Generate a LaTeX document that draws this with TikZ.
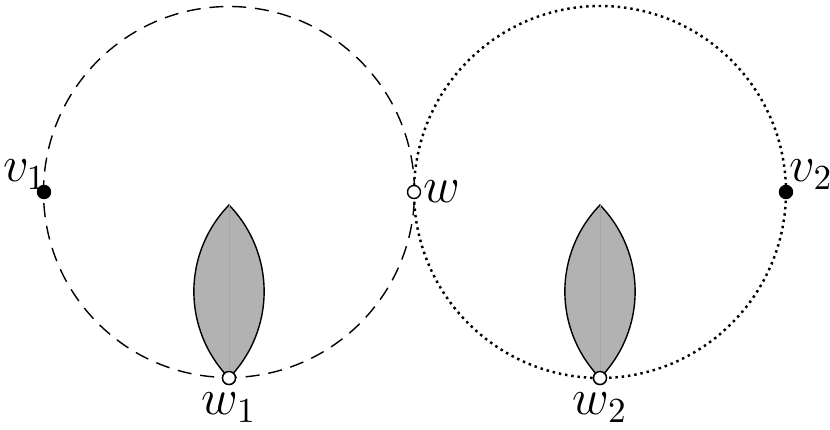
\documentclass[tikz,border=0pt]{standalone}
\usepackage{tikz}
\usetikzlibrary{positioning}

\begin{document}
\begin{tikzpicture}[
    blackdot/.style={circle, draw, fill=black, inner sep=0pt, minimum size=0.13cm},
    whitedot/.style={circle, draw, fill=white, inner sep=0pt, minimum size=0.13cm},
    lens/.style={draw, fill=black!30, line width=0.4pt}]
        \useasboundingbox (0,0) rectangle (8.3,4.3);

        % Circles
        \draw [dashed, dash pattern=on 4pt off 2.5pt] (2.29,2.38) circle (1.855);
        \draw [dotted, line width=0.7pt, dash pattern=on 0.7pt off 1.1pt] (6.00,2.38) circle (1.86);

        % Lenses
        \coordinate (ltop) at (2.29,2.25);
        \coordinate (rtop) at (6.00,2.25);

        % Points
        \node [blackdot] (v1) at (0.44,2.38) {};
        \node [blackdot] (v2) at (7.86,2.38) {};
        \node [whitedot] (w) at (4.14,2.38) {};
        \node [whitedot] (w1) at (2.29,0.52) {};
        \node [whitedot] (w2) at (6.00,0.52) {};

        \draw [lens] (w1.center) to[bend left=44] (ltop) to[bend left=44] (w1.center);
        \draw [lens] (w2.center) to[bend left=44] (rtop) to[bend left=44] (w2.center);
        \draw [black!35, very thin] (w1.center) -- (ltop);
        \draw [black!35, very thin] (w2.center) -- (rtop);
        \node [whitedot] at (w1) {};
        \node [whitedot] at (w2) {};

        % Labels
        \node [anchor=south east, inner sep=0pt, xshift=0.03cm, yshift=0.02cm, font=\Large] at (v1.center) {$v_1$};
        \node [anchor=south west, inner sep=0pt, xshift=0.03cm, yshift=0.02cm, font=\Large] at (v2.center) {$v_2$};
        \node [right=0.02cm of w, inner sep=0pt, font=\Large] {$w$};
        \node [below=0.07cm of w1, inner sep=0pt, font=\Large] {$w_1$};
        \node [below=0.07cm of w2, inner sep=0pt, font=\Large] {$w_2$};
    \end{tikzpicture}
\end{document}
